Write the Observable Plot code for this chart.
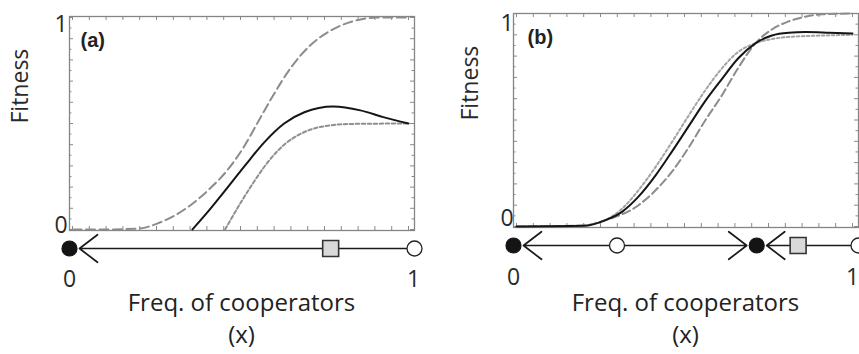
<!DOCTYPE html>
<html><head><meta charset="utf-8">
<script src="https://cdn.jsdelivr.net/npm/d3@7"></script>
<script src="https://cdn.jsdelivr.net/npm/@observablehq/plot@0.6"></script>
<style>
body{margin:0;background:#fff;}
#wrap{display:flex;width:859px;height:354px;overflow:hidden;}
.panel{position:relative;flex:none;overflow:hidden;height:354px;}
.panel svg{display:block;overflow:visible;}
.xl{font-family:"Open Sans",sans-serif;font-size:24px;line-height:32px;color:#222;text-align:center;width:345px;margin-left:69px;white-space:nowrap;}
</style></head><body>
<div id="wrap"><div class="panel" id="pa" style="width:444px"></div><div class="panel" id="pb" style="width:415px"></div></div>
<script>
// ---------- Panel (a) fitness curves ----------
const aDashedX = [0, 0.1, 0.2, 0.26, 0.31, 0.358, 0.409, 0.46, 0.507, 0.558, 0.597, 0.648, 0.707, 0.758, 0.806, 0.857, 0.907, 1.0];
const aDashedY = [0, 0, 0.005, 0.033, 0.071, 0.123, 0.193, 0.278, 0.382, 0.524, 0.632, 0.759, 0.868, 0.929, 0.967, 0.991, 1.0, 1.0];
const aSolidX  = [0.357, 0.40, 0.46, 0.515, 0.57, 0.63, 0.69, 0.776, 0.857, 0.925, 1.0];
const aSolidY  = [0, 0.078, 0.195, 0.305, 0.41, 0.50, 0.553, 0.58, 0.562, 0.53, 0.50];
const aDottedX = [0.454, 0.50, 0.54, 0.58, 0.63, 0.68, 0.73, 0.83, 1.0];
const aDottedY = [0, 0.125, 0.225, 0.315, 0.40, 0.452, 0.481, 0.498, 0.50];
// ---------- Panel (b) fitness curves ----------
const bDashedX = [0, 0.2, 0.265, 0.363, 0.414, 0.464, 0.512, 0.5625, 0.613, 0.66, 0.711, 0.76, 0.81, 0.86, 0.91, 1.0];
const bDashedY = [0, 0.005, 0.03, 0.10, 0.17, 0.26, 0.37, 0.50, 0.62, 0.745, 0.86, 0.925, 0.963, 0.985, 0.996, 1.0];
const bSolidX  = [0, 0.2, 0.265, 0.315, 0.363, 0.414, 0.464, 0.512, 0.56, 0.61, 0.66, 0.711, 0.76, 0.81, 0.86, 0.93, 1.0];
const bSolidY  = [0, 0.003, 0.03, 0.07, 0.14, 0.24, 0.355, 0.47, 0.585, 0.69, 0.79, 0.86, 0.897, 0.91, 0.913, 0.91, 0.906];
const bDottedX = [0.2, 0.265, 0.315, 0.363, 0.414, 0.464, 0.512, 0.56, 0.61, 0.66, 0.711, 0.76, 0.81, 0.88, 1.0];
const bDottedY = [0.003, 0.03, 0.085, 0.17, 0.28, 0.40, 0.52, 0.635, 0.74, 0.82, 0.86, 0.88, 0.89, 0.895, 0.90];
// ---------- Phase lines (equilibria, arrows, marker) ----------
const aStable = [0], aUnstable = [1], aSquare = [0.757];
const aArrowFrom = [1], aArrowTo = [0];
const bStable = [0, 0.705], bUnstable = [0.30, 1], bSquare = [0.825];
const bArrowFrom = [0.30, 0.30, 1], bArrowTo = [0, 0.705, 0.705];
// ---------- Labels ----------
const yTickValues = [0, 1], yTickLabels = ["0", "1"];
const xTickValues = [0, 1], xTickLabels = ["0", "1"];
const panelLetters = ["(a)", "(b)"];
const yTitle = "Fitness";
const xTitleLines = ["Freq. of cooperators", "(x)"];

const toRows = (xs, ys) => xs.map((x, i) => ({x, y: ys[i]}));
const ROW = "phase";

function mainPlot(o) {
  const major = d3.range(0, 1.0001, 0.1);
  const minor = d3.range(0.05, 1, 0.1);
  const xt = d3.range(0, 1.0001, 0.05);
  const innerH = o.height - o.mt - o.mb;
  const innerW = o.width - 69 - o.mr;
  const tc = "#8a8a8a";
  return Plot.plot({
    width: o.width, height: o.height,
    marginTop: o.mt, marginBottom: o.mb, marginLeft: 69, marginRight: o.mr,
    x: {domain: [0, 1], insetLeft: 3, insetRight: 6, axis: null},
    y: {domain: [0, 1], insetTop: o.it, insetBottom: 1, axis: null},
    style: {fontFamily: "Open Sans", color: "#222", background: "transparent", overflow: "visible"},
    marks: [
      Plot.tickX(xt, {x: d => d, insetTop: innerH - 4, stroke: tc}),
      Plot.tickX(xt, {x: d => d, insetBottom: innerH - 4, stroke: tc}),
      Plot.tickY(major, {y: d => d, insetRight: innerW - 4, stroke: tc}),
      Plot.tickY(minor, {y: d => d, insetRight: innerW - 2.5, stroke: tc}),
      Plot.tickY(major, {y: d => d, insetLeft: innerW - 4, stroke: tc}),
      Plot.tickY(minor, {y: d => d, insetLeft: innerW - 2.5, stroke: tc}),
      Plot.frame({stroke: "#858585", strokeWidth: 1.3}),
      Plot.line(o.dashed, {x: "x", y: "y", curve: "monotone-x", stroke: "#8c8c8c", strokeWidth: 2, strokeDasharray: o.dashArr}),
      Plot.line(o.dotted, {x: "x", y: "y", curve: "monotone-x", stroke: o.dotColor, strokeWidth: 2, strokeDasharray: o.dotArr}),
      Plot.line(o.solid, {x: "x", y: "y", curve: "monotone-x", stroke: "#151515", strokeWidth: 2}),
      Plot.text([panelLetters[o.idx]], {frameAnchor: "top-left", dx: o.letterDx, dy: 16, textAnchor: "start", lineAnchor: "top",
        fontFamily: "Liberation Sans, Arial, sans-serif", fontWeight: "bold", fontSize: 20, fill: "#222"}),
      Plot.text([yTitle], {frameAnchor: "left", rotate: -90, dx: o.titleDx, fontSize: 23, fill: "#2a2a2a"}),
      Plot.text([{v: yTickValues[1], t: yTickLabels[1]}], {y: "v", text: "t", frameAnchor: "left", dx: o.tickDx, dy: o.dy1, fontSize: 23, fill: "#2a2a2a"}),
      Plot.text([{v: yTickValues[0], t: yTickLabels[0]}], {y: "v", text: "t", frameAnchor: "left", dx: o.tickDx, dy: o.dy0, fontSize: 23, fill: "#2a2a2a"})
    ]
  });
}

function phasePlot(o) {
  const arrows = o.from.map((f, i) => ({from: f, to: o.to[i], row: ROW}));
  const st = o.stable.map(x => ({x, row: ROW}));
  const un = o.unstable.map(x => ({x, row: ROW}));
  const sq = o.square.map(x => ({x, row: ROW}));
  const labs = xTickValues.map((x, i) => ({x, t: xTickLabels[i], row: ROW}));
  return Plot.plot({
    width: o.width, height: o.height,
    marginTop: 0, marginBottom: o.height - 16, marginLeft: 69, marginRight: o.mr,
    x: {domain: [0, 1], axis: null},
    y: {type: "point", domain: [ROW], axis: null},
    style: {fontFamily: "Open Sans", color: "#222", background: "transparent", overflow: "visible"},
    marks: [
      Plot.arrow(arrows, {x1: "from", x2: "to", y1: "row", y2: "row", stroke: "#1a1a1a", strokeWidth: 1.7,
        headLength: 20, headAngle: 75, insetStart: 8, insetEnd: 10}),
      Plot.dot(sq, {x: "x", y: "row", symbol: "square", r: 9, fill: "#d9d9d9", stroke: "#333", strokeWidth: 1.6}),
      Plot.dot(st, {x: "x", y: "row", r: 7.5, fill: "#141414", stroke: "#141414", strokeWidth: 1.2}),
      Plot.dot(un, {x: "x", y: "row", r: 7.5, fill: "#fff", stroke: "#222", strokeWidth: 1.3}),
      Plot.text(labs.slice(0, 1), {x: "x", y: "row", text: "t", dy: o.labDy, fontSize: 23, fill: "#2a2a2a"}),
      Plot.text(labs.slice(1), {x: "x", y: "row", text: "t", dy: o.labDy, dx: o.lastDx, fontSize: 23, fill: "#2a2a2a"})
    ]
  });
}

function titleDiv() {
  const d = document.createElement("div");
  d.className = "xl";
  d.innerHTML = xTitleLines.map(s => `<div>${s}</div>`).join("");
  return d;
}

const pa = document.getElementById("pa");
pa.append(mainPlot({idx: 0, width: 444, height: 240, mt: 16, mb: 10, mr: 30, it: 1,
  dashed: toRows(aDashedX, aDashedY), solid: toRows(aSolidX, aSolidY), dotted: toRows(aDottedX, aDottedY),
  dashArr: "9,4.5", dotArr: "3.5,2.5", dotColor: "#8f8f8f", letterDx: 11, titleDx: -49, tickDx: -15, dy1: 7, dy0: -4}));
pa.append(phasePlot({width: 444, height: 46, mr: 30, lastDx: -1, labDy: 31, stable: aStable, unstable: aUnstable, square: aSquare, from: aArrowFrom, to: aArrowTo}));
pa.append(titleDiv());

const pb = document.getElementById("pb");
pb.append(mainPlot({idx: 1, width: 415, height: 237, mt: 13, mb: 10, mr: 1, it: 0,
  dashed: toRows(bDashedX, bDashedY), solid: toRows(bSolidX, bSolidY), dotted: toRows(bDottedX, bDottedY),
  dashArr: "8,4", dotArr: "2.5,2.5", dotColor: "#a3a3a3", letterDx: 14, titleDx: -43, tickDx: -13, dy1: 10, dy0: -8}));
pb.append(phasePlot({width: 415, height: 49, mr: 1, lastDx: -6, labDy: 32, stable: bStable, unstable: bUnstable, square: bSquare, from: bArrowFrom, to: bArrowTo}));
pb.append(titleDiv());
</script>
</body></html>
